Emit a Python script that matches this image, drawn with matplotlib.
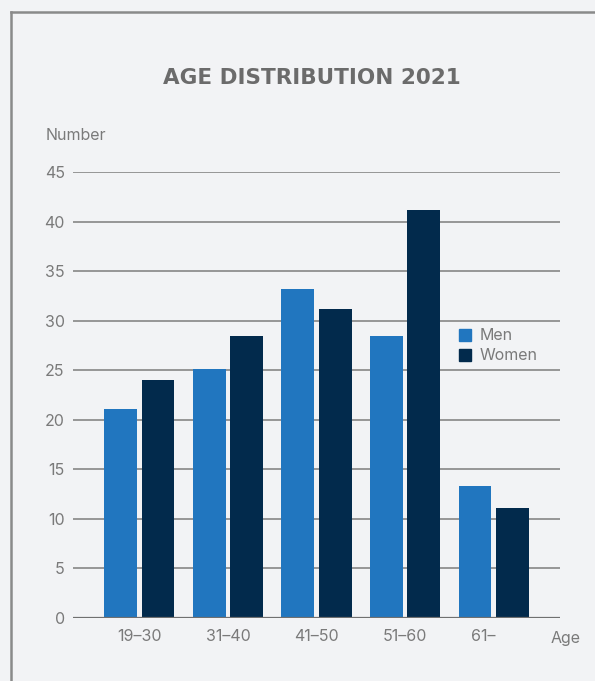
import numpy as np
import matplotlib
matplotlib.use("Agg")
import matplotlib.pyplot as plt
from matplotlib.lines import Line2D
from matplotlib.patches import Patch
from matplotlib.transforms import ScaledTranslation

# age groups and head counts per group
age_groups = ["19–30", "31–40", "41–50", "51–60", "61–"]
men = [21.1, 25.1, 33.2, 28.5, 13.3]
women = [24.0, 28.5, 31.2, 41.2, 11.1]
y_ticks = [0, 5, 10, 15, 20, 25, 30, 35, 40, 45]

BG = "#f2f3f5"
MEN_COL = "#2176bf"
WOMEN_COL = "#022a4c"
TEXT_COL = "#7a7a7a"
GRID_COL = "#969696"

plt.rcParams['font.family'] = ['Inter', 'DejaVu Sans']

fig = plt.figure(figsize=(5.95, 6.81), dpi=100, facecolor=BG)
ax = fig.add_axes([73/595, 63/681, 487/595, 446/681], facecolor=BG)

x = np.arange(len(age_groups))
w = 0.372
off = 0.21
ax.bar(x - off, men, w, color=MEN_COL, zorder=3)
ax.bar(x + off, women, w, color=WOMEN_COL, zorder=3)

ax.set_xlim(-0.75, 4.75)
ax.set_ylim(0, 45)
ax.set_yticks(y_ticks)
ax.set_yticklabels([str(t) for t in y_ticks])
ax.set_xticks(x)
ax.set_xticklabels(age_groups)

# horizontal grid, zero line slightly darker
for t in y_ticks[1:]:
    ax.axhline(t, color=GRID_COL, lw=1.4, zorder=1)
ax.axhline(0, color="#707070", lw=1.6, zorder=4)

for s in ax.spines.values():
    s.set_visible(False)
ax.tick_params(axis="both", length=0, colors=TEXT_COL, labelsize=11.5)
ax.tick_params(axis="y", pad=6)
ax.tick_params(axis="x", pad=8)

# the open-ended group label sits a bit left of its bars
last = ax.get_xticklabels()[-1]
last.set_transform(last.get_transform() + ScaledTranslation(-0.1, 0, fig.dpi_scale_trans))

ax.text(1.012, -0.046, "Age", transform=ax.transAxes, ha="center", va="center",
        fontsize=11.5, color=TEXT_COL)
fig.text(46/595, 1 - 135/681, "Number", ha="left", va="center",
         fontsize=11.5, color=TEXT_COL)
fig.text(312/595, 1 - 78/681, "AGE DISTRIBUTION 2021", ha="center", va="center",
         fontsize=15.5, fontweight="bold", color="#6b6b6b", family="DejaVu Sans")

handles = [Patch(color=MEN_COL), Patch(color=WOMEN_COL)]
leg = ax.legend(handles, ["Men", "Women"], loc="center left",
                bbox_to_anchor=(0.78, 0.61), frameon=False, fontsize=11.5,
                handlelength=0.75, handleheight=0.75, handletextpad=0.55,
                labelspacing=0.32, borderaxespad=0)
for t in leg.get_texts():
    t.set_color(TEXT_COL)

# outer frame, open at the right and bottom
fig.add_artist(Line2D([11/595, 11/595], [0, 1 - 12/681], transform=fig.transFigure,
                      color="#8a8a8a", lw=1.8))
fig.add_artist(Line2D([11/595, 1], [1 - 12/681, 1 - 12/681], transform=fig.transFigure,
                      color="#8a8a8a", lw=1.8))

fig.savefig("out.png", dpi=100, facecolor=BG)
